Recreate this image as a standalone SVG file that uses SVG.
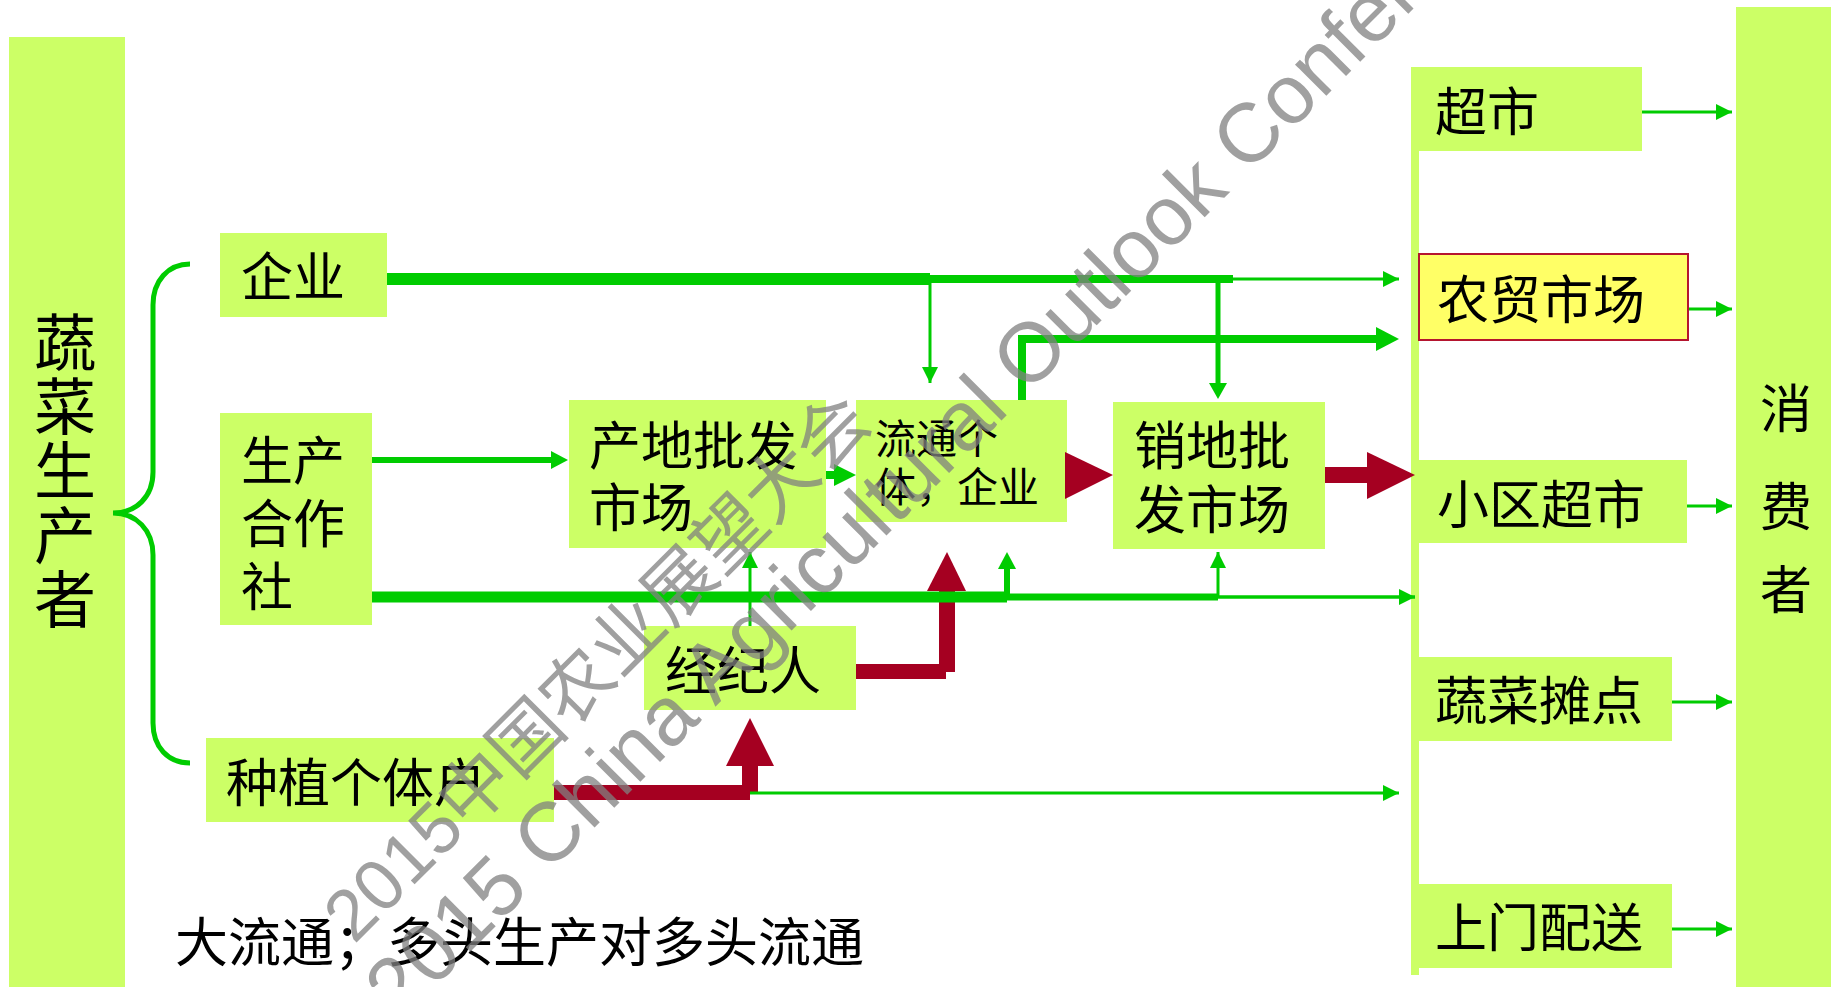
<svg xmlns="http://www.w3.org/2000/svg" width="1831" height="987" viewBox="0 0 1831 987">
<defs>
<style>
.box{fill:#CCFF66}
.t{font-family:"Liberation Sans","Noto Sans CJK SC",sans-serif;fill:#000;font-size:52px}
.g{stroke:#00CC00;fill:none}
.gf{fill:#00CC00}
.rf{fill:#A50021}
.wm{font-family:"Liberation Sans","Noto Sans CJK SC",sans-serif;fill:#808080;fill-opacity:0.75}
</style>
<marker id="ah" markerUnits="userSpaceOnUse" markerWidth="16" markerHeight="16" refX="16" refY="8" orient="auto" viewBox="0 0 16 16"><path d="M0,0 L16,8 L0,16 z" fill="#00CC00"/></marker>
</defs>
<rect width="1831" height="987" fill="#FFFFFF"/>

<g id="n-producer"><rect class="box" x="9" y="37" width="116" height="950"/>
<text class="t" style="font-size:62px" text-anchor="middle"><tspan x="65" y="366">蔬</tspan><tspan x="65" y="430">菜</tspan><tspan x="65" y="494">生</tspan><tspan x="65" y="559">产</tspan><tspan x="65" y="623">者</tspan></text></g>

<g id="brace"><path class="g" stroke-width="5" d="M190,264 C168,264 153,281 153,305 L153,472 C153,497 136,513 113,513 C136,513 153,530 153,555 L153,723 C153,747 168,763 190,763"/></g>

<g id="n-qiye"><rect class="box" x="220" y="233" width="167" height="84"/><text class="t" x="241" y="296">企业</text></g>
<g id="n-coop"><rect class="box" x="220" y="413" width="152" height="212"/><text class="t"><tspan x="241" y="480">生产</tspan><tspan x="241" y="543">合作</tspan><tspan x="241" y="606">社</tspan></text></g>
<g id="n-farmer"><rect class="box" x="206" y="738" width="348" height="84"/><text class="t" x="226" y="802">种植个体户</text></g>
<g id="n-origin"><rect class="box" x="569" y="400" width="257" height="148"/><text class="t"><tspan x="589" y="465">产地批发</tspan><tspan x="589" y="527">市场</tspan></text></g>
<g id="n-trader"><rect class="box" x="856" y="400" width="211" height="122"/><text class="t" style="font-size:41px"><tspan x="875" y="454">流通个</tspan><tspan x="875" y="502">体，企业</tspan></text></g>
<g id="n-dest"><rect class="box" x="1113" y="402" width="212" height="147"/><text class="t"><tspan x="1134" y="465">销地批</tspan><tspan x="1134" y="529">发市场</tspan></text></g>
<g id="n-broker"><rect class="box" x="644" y="626" width="212" height="84"/><text class="t" x="665" y="690">经纪人</text></g>

<g id="n-retailbar"><rect class="box" x="1411" y="67" width="8" height="908"/></g>
<g id="n-super"><rect class="box" x="1411" y="67" width="231" height="84"/><text class="t" x="1435" y="131">超市</text></g>
<g id="n-market"><rect x="1419" y="254" width="269" height="86" fill="#FFFF66" stroke="#B5152F" stroke-width="2"/><text class="t" x="1437" y="319">农贸市场</text></g>
<g id="n-community"><rect class="box" x="1411" y="460" width="276" height="83"/><text class="t" x="1437" y="524">小区超市</text></g>
<g id="n-stall"><rect class="box" x="1411" y="657" width="261" height="84"/><text class="t" x="1435" y="720">蔬菜摊点</text></g>
<g id="n-delivery"><rect class="box" x="1411" y="884" width="261" height="84"/><text class="t" x="1435" y="947">上门配送</text></g>
<g id="n-consumer"><rect class="box" x="1736" y="7" width="95" height="980"/><text class="t" text-anchor="middle"><tspan x="1786" y="428">消</tspan><tspan x="1786" y="526">费</tspan><tspan x="1786" y="609">者</tspan></text></g>

<g id="connectors">
<rect class="rf" x="554" y="785" width="196" height="15"/>
<rect class="rf" x="742" y="765" width="16" height="27"/>
<polygon class="rf" points="726,766 774,766 750,718"/>
<rect class="rf" x="856" y="664" width="90" height="15"/>
<rect class="rf" x="939" y="589" width="16" height="83"/>
<polygon class="rf" points="927,591 966,591 947,552"/>
<polygon class="rf" points="1065,452 1065,499 1113,475"/>
<rect class="rf" x="1325" y="467" width="43" height="16"/>
<polygon class="rf" points="1367,452 1367,499 1415,475"/>

<path class="g" stroke-width="12" d="M387,279 H930"/>
<path class="g" stroke-width="8" d="M930,279 H1233"/>
<path class="g" stroke-width="3" d="M1233,279 H1399" marker-end="url(#ah)"/>
<path class="g" stroke-width="3" d="M930,279 V383" marker-end="url(#ah)"/>
<path class="g" stroke-width="5" d="M1218,279 V384"/>
<polygon class="gf" points="1209,383 1227,383 1218,399"/>
<path class="g" stroke-width="8" d="M1022,400 V339 H1377"/>
<polygon class="gf" points="1376,327 1376,351 1399,339"/>
<path class="g" stroke-width="6" d="M372,460 H552"/>
<polygon class="gf" points="551,451 551,469 568,460"/>
<path class="g" stroke-width="8" d="M826,475 H835"/>
<polygon class="gf" points="834,464 834,486 856,475"/>
<path class="g" stroke-width="11" d="M372,597 H1007"/>
<path class="g" stroke-width="7" d="M1006,597 H1218"/>
<path class="g" stroke-width="3.5" d="M1218,597 H1415" marker-end="url(#ah)"/>
<path class="g" stroke-width="3" d="M750,626 V552" marker-end="url(#ah)"/>
<path class="g" stroke-width="6" d="M1007,597 V568"/>
<polygon class="gf" points="998,569 1016,569 1007,552"/>
<path class="g" stroke-width="3" d="M1218,597 V552" marker-end="url(#ah)"/>
<path class="g" stroke-width="3" d="M750,793 H1399" marker-end="url(#ah)"/>
<path class="g" stroke-width="3" d="M1642,112 H1732" marker-end="url(#ah)"/>
<path class="g" stroke-width="3" d="M1689,309 H1732" marker-end="url(#ah)"/>
<path class="g" stroke-width="3" d="M1687,506 H1732" marker-end="url(#ah)"/>
<path class="g" stroke-width="3" d="M1672,702 H1732" marker-end="url(#ah)"/>
<path class="g" stroke-width="3" d="M1672,929 H1732" marker-end="url(#ah)"/>
</g>

<text class="t" style="font-size:53px" x="175" y="962">大流通；多头生产对多头流通</text>

<g id="watermark">
<text class="wm" style="font-size:72px" x="354" y="945" transform="rotate(-45 354 945)">2015中国农业展望大会</text>
<text class="wm" style="font-size:83.5px" x="400" y="1022" transform="rotate(-45 400 1022)">2015 China Agricultural Outlook Conference</text>
</g>
</svg>
